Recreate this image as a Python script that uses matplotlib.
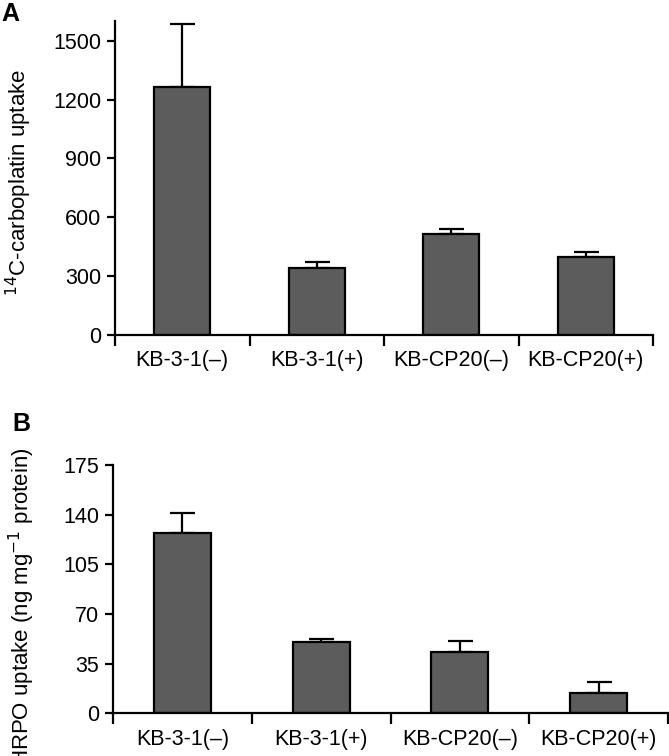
import matplotlib
matplotlib.use("Agg")
import matplotlib.pyplot as plt
import numpy as np

plt.rcParams['font.family'] = ['Liberation Sans', 'DejaVu Sans']

groups = ['KB-3-1(\u2013)', 'KB-3-1(+)', 'KB-CP20(\u2013)', 'KB-CP20(+)']

# panel A: 14C-carboplatin uptake
carbo_mean = [1265, 341, 514, 397]
carbo_err = [322, 30, 26, 26]

# panel B: HRPO uptake
hrpo_mean = [126.8, 50.0, 43.4, 14.1]
hrpo_err = [14.7, 2.5, 7.7, 7.9]

W, H = 669, 756
fig = plt.figure(figsize=(W / 100, H / 100), dpi=100)


def panel(rect, means, errs, ylim, yticks, width):
    ax = fig.add_axes(rect)
    x = np.arange(len(means))
    ax.bar(x, means, width=width, color='#5c5c5c', edgecolor='black', linewidth=1.6, zorder=2)
    ax.errorbar(x, means, yerr=[np.zeros(len(errs)), errs], fmt='none', ecolor='black',
                elinewidth=1.6, capsize=9, capthick=1.6, zorder=1)
    ax.set_xlim(-0.5, len(means) - 0.5)
    ax.set_ylim(*ylim)
    ax.set_yticks(yticks)
    ax.set_xticks(np.arange(len(means) + 1) - 0.5)
    ax.set_xticklabels([])
    ax.set_xticks(x, minor=True)
    ax.set_xticklabels(groups, minor=True)
    ax.tick_params(axis='x', which='major', direction='out', length=8, width=1.6)
    ax.tick_params(axis='x', which='minor', length=0, pad=11, labelsize=15.5)
    ax.tick_params(axis='y', direction='out', length=6, width=1.6, labelsize=15.5, pad=4)
    for s in ['top', 'right']:
        ax.spines[s].set_visible(False)
    for s in ['left', 'bottom']:
        ax.spines[s].set_linewidth(1.6)
    return ax


axA = panel([115 / W, 1 - 335 / H, 538 / W, 314 / H], carbo_mean, carbo_err,
            (0, 1600), [0, 300, 600, 900, 1200, 1500], 0.42)
axB = panel([113 / W, 1 - 713.3 / H, 555 / W, 248.3 / H], hrpo_mean, hrpo_err,
            (0, 175), [0, 35, 70, 105, 140, 175], 0.41)

fig.text(19 / W, 1 - 182 / H, '$^{14}$C-carboplatin uptake', rotation=90,
         ha='center', va='center', fontsize=16)
fig.text(22 / W, 1 - 607 / H, 'HRPO uptake (ng mg$^{-1}$ protein)', rotation=90,
         ha='center', va='center', fontsize=16)
fig.text(1 / W, 1 - 14 / H, 'A', fontsize=18, fontweight='bold', ha='left', va='center')
fig.text(12 / W, 1 - 424 / H, 'B', fontsize=18, fontweight='bold', ha='left', va='center')

fig.savefig('out.png', dpi=100)
